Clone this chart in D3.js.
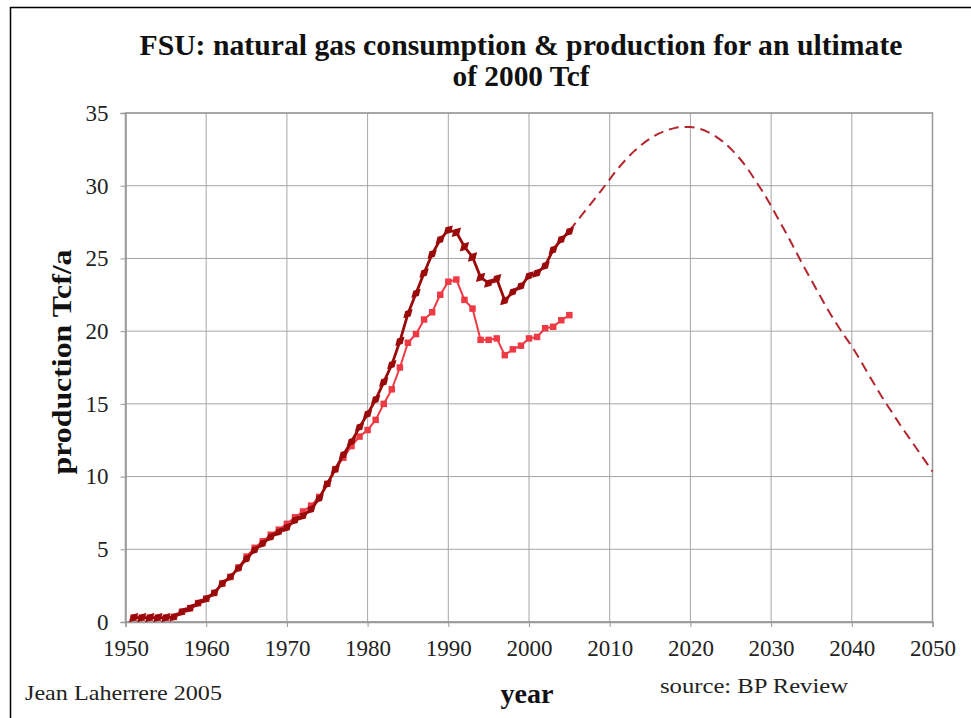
<!DOCTYPE html>
<html>
<head>
<meta charset="utf-8">
<script src="https://cdn.jsdelivr.net/npm/d3@7"></script>
<style>
  html, body { margin: 0; padding: 0; background: #fff; }
  svg { display: block; }
  text { font-family: "Liberation Serif", "Times New Roman", serif; }
</style>
</head>
<body>
<svg id="chart" width="971" height="718"></svg>
<script>
// ---- data ----
const years = d3.range(1951, 2006);
const production = [
  0.3, 0.3, 0.3, 0.3, 0.3, 0.35, 0.7, 0.95, 1.3, 1.6,
  2.0, 2.65, 3.1, 3.7, 4.35, 4.95, 5.4, 5.85, 6.2, 6.5,
  7.0, 7.3, 7.75, 8.5, 9.5, 10.5, 11.5, 12.4, 13.4, 14.3,
  15.3, 16.5, 17.7, 19.3, 21.2, 22.6, 24.0, 25.3, 26.3, 26.95,
  26.8, 25.8, 25.1, 23.7, 23.3, 23.6, 22.1, 22.7, 23.1, 23.8,
  24.0, 24.5, 25.6, 26.3, 26.85
];
const consumption = [
  0.3, 0.3, 0.3, 0.3, 0.3, 0.35, 0.7, 0.95, 1.3, 1.6,
  2.0, 2.65, 3.1, 3.75, 4.5, 5.1, 5.55, 6.0, 6.35, 6.75,
  7.2, 7.6, 8.0, 8.6, 9.5, 10.5, 11.3, 12.1, 12.75, 13.2,
  13.9, 15.0, 16.0, 17.5, 19.2, 19.8, 20.8, 21.3, 22.5, 23.4,
  23.55, 22.15, 21.55, 19.4, 19.4, 19.5, 18.35, 18.75, 19.0, 19.5,
  19.6, 20.2, 20.3, 20.75, 21.1
];
const projYears = d3.range(2005, 2051);
const projection = [
  26.9, 27.6, 28.3, 29.0, 29.7, 30.44, 31.16, 31.8, 32.36, 32.84,
  33.24, 33.56, 33.8, 33.96, 34.04, 34.04, 33.94, 33.74, 33.44, 33.04,
  32.54, 31.94, 31.24, 30.4, 29.55, 28.6, 27.6, 26.6, 25.55, 24.5,
  23.5, 22.5, 21.5, 20.6, 19.75, 18.95, 18.05, 17.1, 16.15, 15.25,
  14.4, 13.55, 12.75, 11.95, 11.15, 10.35
];
const xTicks = [1950, 1960, 1970, 1980, 1990, 2000, 2010, 2020, 2030, 2040, 2050];
const yTicks = [0, 5, 10, 15, 20, 25, 30, 35];
const titleLines = ["FSU: natural gas consumption & production for an ultimate", "of 2000 Tcf"];

// ---- layout ----
const svg = d3.select("#chart");
const L = 125.5, R = 932.5, T = 113, B = 622;
const x = d3.scaleLinear().domain([1950, 2050]).range([L, R]);
const y = d3.scaleLinear().domain([0, 35]).range([B, T]);

// outer frame
svg.append("rect").attr("x", 10.5).attr("y", 7.5).attr("width", 980).attr("height", 730)
  .attr("fill", "none").attr("stroke", "#000").attr("stroke-width", 1.5);

// grid
const grid = svg.append("g");
grid.selectAll("line.v").data(xTicks).join("line")
  .attr("x1", d => x(d)).attr("x2", d => x(d)).attr("y1", T).attr("y2", B)
  .attr("stroke", "#a5a5a5").attr("stroke-width", 1);
grid.selectAll("line.h").data(yTicks).join("line")
  .attr("y1", d => y(d)).attr("y2", d => y(d)).attr("x1", L).attr("x2", R)
  .attr("stroke", "#a5a5a5").attr("stroke-width", 1);
svg.append("rect").attr("x", L).attr("y", T).attr("width", R - L).attr("height", B - T)
  .attr("fill", "none").attr("stroke", "#999").attr("stroke-width", 1.5);

// axes
const xAxis = d3.axisBottom(x).tickValues(xTicks).tickFormat(d3.format("d")).tickSize(5).tickPadding(13);
const yAxis = d3.axisLeft(y).tickValues(yTicks).tickSize(5).tickPadding(12);
const gx = svg.append("g").attr("transform", `translate(0,${B})`).call(xAxis);
const gy = svg.append("g").attr("transform", `translate(${L},0)`).call(yAxis);
[gx, gy].forEach(g => {
  g.select(".domain").attr("stroke", "#999").attr("stroke-width", 1.5);
  g.selectAll(".tick line").attr("stroke", "#999");
  g.selectAll(".tick text").attr("font-family", "Liberation Serif, serif")
    .attr("font-size", 23).attr("fill", "#222");
});

// projection (dashed)
const line = d3.line().x(d => x(d[0])).y(d => y(d[1])).curve(d3.curveMonotoneX);
svg.append("path").datum(projYears.map((yr, i) => [yr, projection[i]]))
  .attr("d", line).attr("fill", "none").attr("stroke", "#b3262e")
  .attr("stroke-width", 2).attr("stroke-dasharray", "10,6");

// consumption (light red squares)
const consData = years.map((yr, i) => [yr, consumption[i]]);
svg.append("path").datum(consData).attr("d", d3.line().x(d => x(d[0])).y(d => y(d[1])))
  .attr("fill", "none").attr("stroke", "#ee3a44").attr("stroke-width", 2);
svg.append("g").selectAll("path").data(consData).join("path")
  .attr("d", d3.symbol(d3.symbolSquare, 42)())
  .attr("transform", d => `translate(${x(d[0])},${y(d[1])})`)
  .attr("fill", "#ee3a44");

// production (dark red diamonds)
const prodData = years.map((yr, i) => [yr, production[i]]);
svg.append("path").datum(prodData).attr("d", d3.line().x(d => x(d[0])).y(d => y(d[1])))
  .attr("fill", "none").attr("stroke", "#9a0a0a").attr("stroke-width", 2.8);
svg.append("g").selectAll("path").data(prodData).join("path")
  .attr("d", d3.symbol(d3.symbolDiamond, 70)())
  .attr("transform", d => `translate(${x(d[0])},${y(d[1])}) rotate(45) scale(0.85)`)
  .attr("fill", "#9a0a0a");

// title
svg.append("text").attr("x", 521).attr("y", 55).attr("text-anchor", "middle")
  .attr("font-size", 29).attr("font-weight", "bold").attr("fill", "#111")
  .attr("textLength", 763).attr("lengthAdjust", "spacingAndGlyphs").text(titleLines[0]);
svg.append("text").attr("x", 521).attr("y", 86).attr("text-anchor", "middle")
  .attr("font-size", 29).attr("font-weight", "bold").attr("fill", "#111")
  .attr("textLength", 137).attr("lengthAdjust", "spacingAndGlyphs").text(titleLines[1]);

// axis labels
svg.append("text").attr("transform", "translate(71,362) rotate(-90)").attr("text-anchor", "middle")
  .attr("font-size", 27).attr("font-weight", "bold").attr("fill", "#111")
  .attr("textLength", 225).attr("lengthAdjust", "spacingAndGlyphs").text("production Tcf/a");
svg.append("text").attr("x", 527).attr("y", 703).attr("text-anchor", "middle")
  .attr("font-size", 28).attr("font-weight", "bold").attr("fill", "#111")
  .attr("textLength", 53).attr("lengthAdjust", "spacingAndGlyphs").text("year");

// footnotes
svg.append("text").attr("x", 25).attr("y", 700).attr("font-size", 21).attr("fill", "#222")
  .attr("textLength", 197).attr("lengthAdjust", "spacingAndGlyphs").text("Jean Laherrere 2005");
svg.append("text").attr("x", 660).attr("y", 693).attr("font-size", 21).attr("fill", "#222")
  .attr("textLength", 188).attr("lengthAdjust", "spacingAndGlyphs").text("source: BP Review");
</script>
</body>
</html>
